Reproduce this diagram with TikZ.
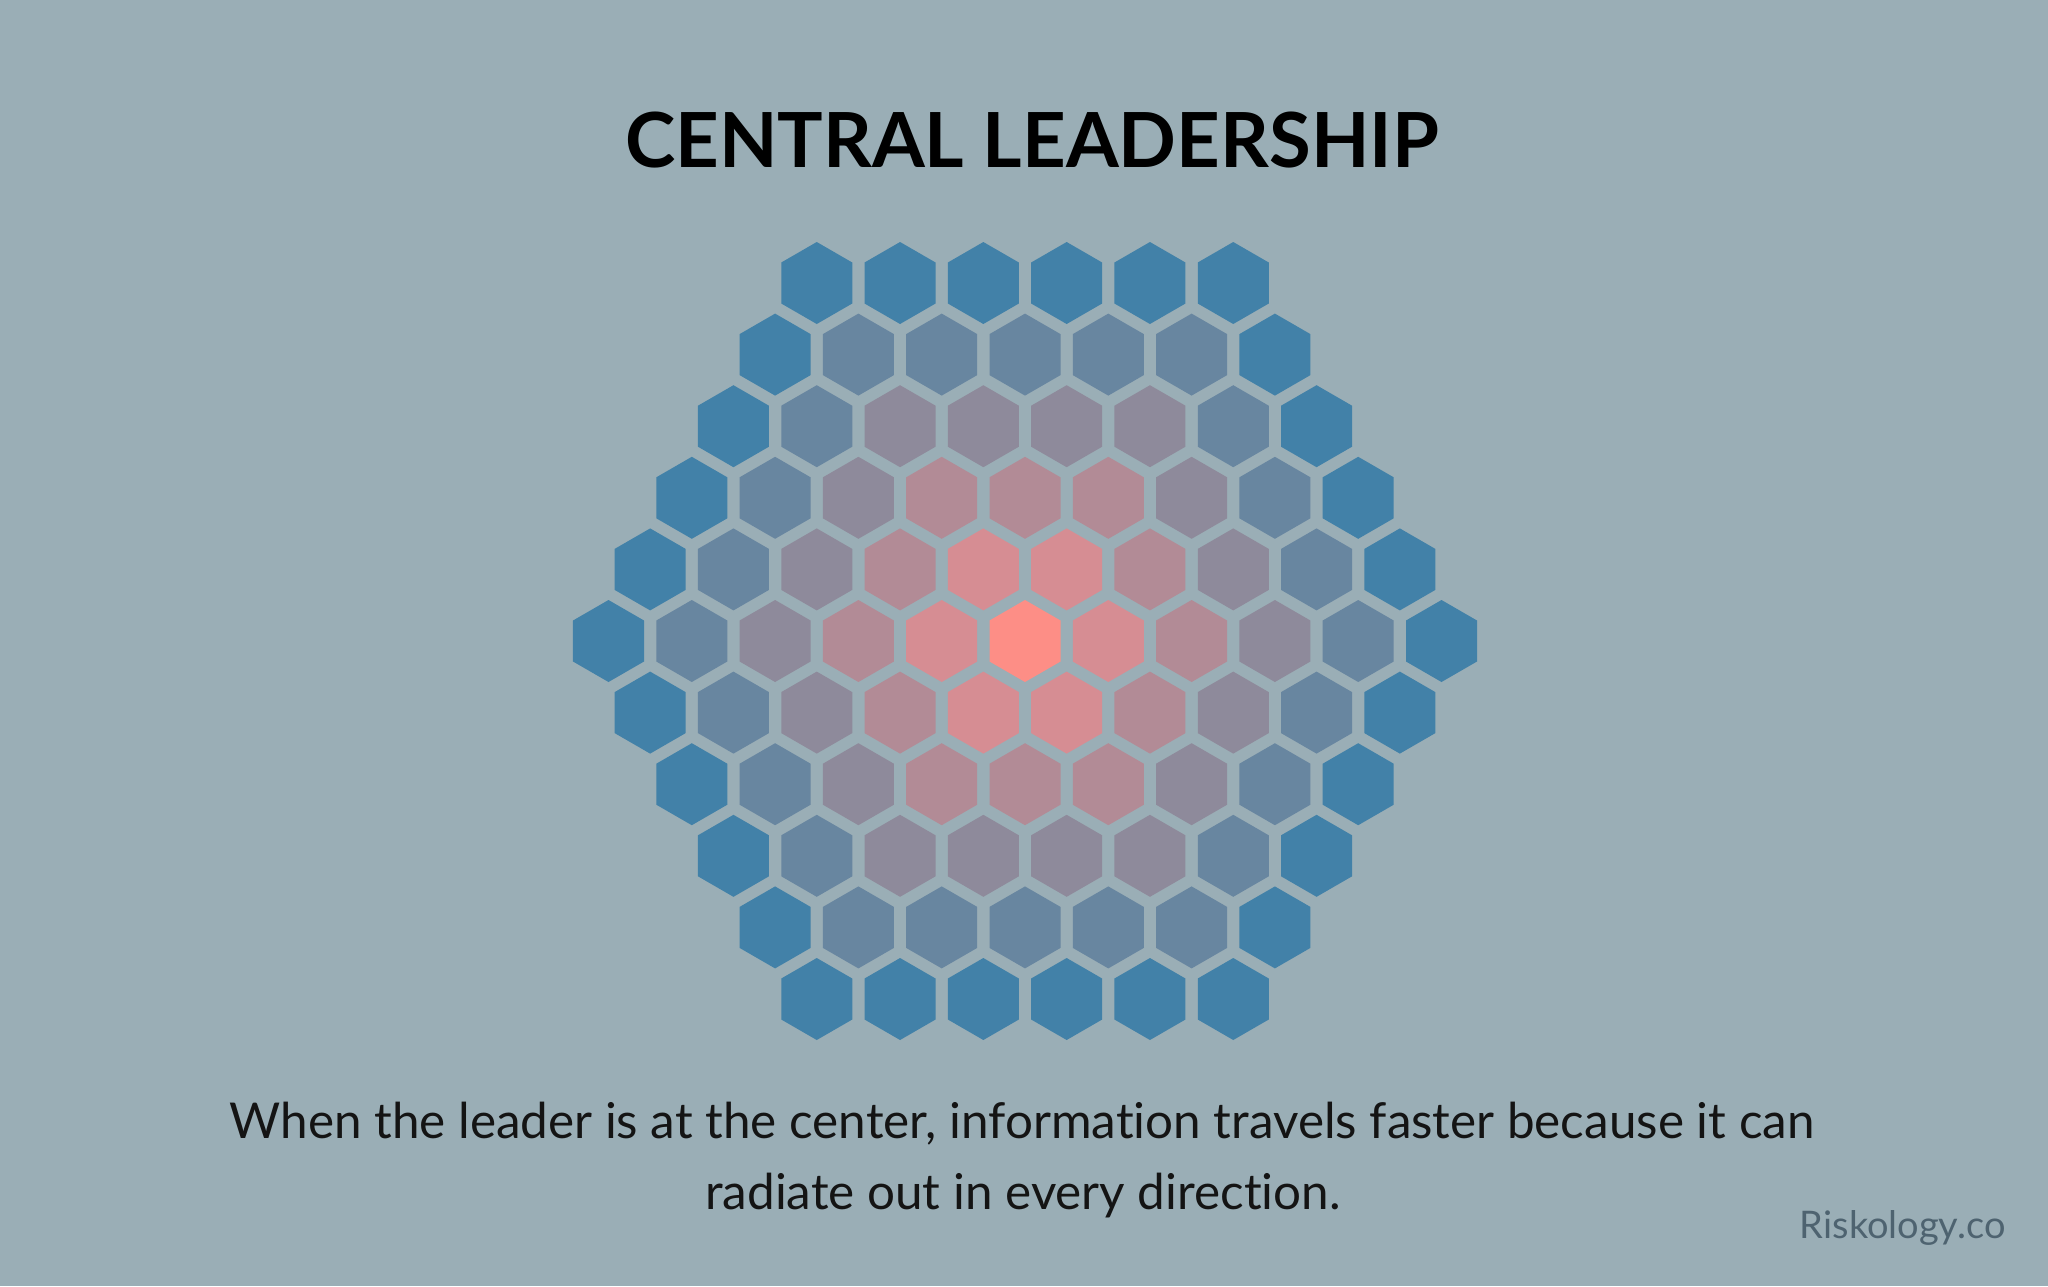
\documentclass[tikz,border=0pt]{standalone}
\usepackage{fontspec}
\setmainfont{Lato}[Ligatures=NoCommon]
\usetikzlibrary{shapes.geometric}
\definecolor{bgfill}{HTML}{9AAEB6}
\definecolor{hexd0}{HTML}{FD8E86}
\definecolor{hexd1}{HTML}{D68D93}
\definecolor{hexd2}{HTML}{B28B96}
\definecolor{hexd3}{HTML}{8E8A9B}
\definecolor{hexd4}{HTML}{6886A0}
\definecolor{hexd5}{HTML}{4281A8}
\definecolor{creditgray}{HTML}{4E6370}
\tikzset{
  hexcell/.style={regular polygon,regular polygon sides=6,shape border rotate=30,minimum size=82pt,inner sep=0pt,outer sep=0pt},
  heading/.style={font=\fontsize{76}{84}\selectfont\bfseries},
  caption/.style={font=\fontsize{49.4}{71}\selectfont,text=black!92},
  credit/.style={font=\fontsize{38}{44}\selectfont,text=creditgray},
}

\begin{document}
\begin{tikzpicture}[x=1pt,y=-1pt]
  \fill[bgfill] (0,0) rectangle (2048,1286);
  \useasboundingbox (0,0) rectangle (2048,1286);
  % title
  \node[heading,anchor=base] (title) at (1032,167) {CENTRAL LEADERSHIP};
  % hex grid, coloured by distance from the centre cell
  \foreach \r in {-5,...,5}{
    \foreach \q in {-5,...,5}{
      \pgfmathtruncatemacro\dist{max(abs(\q),abs(\r),abs(\q+\r))}
      \ifnum\dist<6
        \node[hexcell,fill=hexd\dist] (hex-\q-\r) at ({1025+83.3*(\q+0.5*\r)},{641+71.6*\r}) {};
      \fi
    }
  }
  % caption
  \node[caption,anchor=base] (capa) at (1022,1138) {When the leader is at the center, information travels faster because it can};
  \node[caption,anchor=base] (capb) at (1023,1209) {radiate out in every direction.};
  \node[credit,anchor=base east] (credit) at (2009,1238) {Riskology.co};
\end{tikzpicture}
\end{document}
